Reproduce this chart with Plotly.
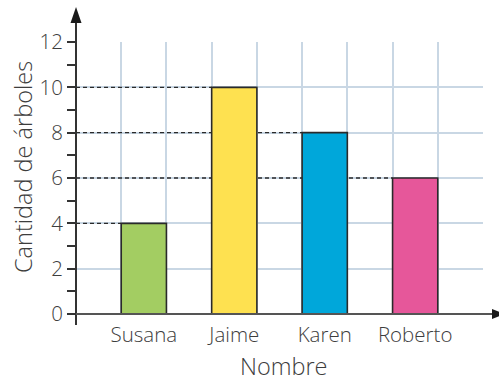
import plotly.graph_objects as go

# Trees counted per person
nombres = ["Susana", "Jaime", "Karen", "Roberto"]
arboles = [4, 10, 8, 6]
colores = ["#a3cd62", "#fee150", "#00a7da", "#e6579a"]
y_ticks = [0, 2, 4, 6, 8, 10, 12]

# Each bar sits in every other grid column (columns 1, 3, 5, 7 of 0..8)
posiciones = [2 * i + 1.5 for i in range(len(nombres))]

FONT = "Open Sans"
TXT = "#3d3d3d"
GRID = "#c9d7e4"
AXIS = "#333333"

fig = go.Figure()
fig.add_trace(go.Bar(
    x=posiciones, y=arboles, width=1,
    marker=dict(color=colores, line=dict(color="#2a2a2a", width=1.6)),
    hoverinfo="skip",
))

shapes = []
# dashed reference lines from the y axis to each bar's top-left corner
for xc, v in zip(posiciones, arboles):
    shapes.append(dict(type="line", xref="x", yref="y", x0=0, x1=xc - 0.5, y0=v, y1=v,
                       line=dict(color="#2a2a2a", width=1.3, dash="4px,3px"), layer="between"))

# axis lines with arrowheads (paper coords extend beyond the plot area)
W, H = 407.0, 272.0
shapes.append(dict(type="line", xref="paper", yref="paper", x0=0, x1=0,
                   y0=-11 / H, y1=1 + 22 / H, line=dict(color=AXIS, width=2), layer="above"))
shapes.append(dict(type="path", xref="paper", yref="paper",
                   path=f"M {-5.5 / W} {1 + 19 / H} L {5.5 / W} {1 + 19 / H} L 0 {1 + 35 / H} Z",
                   fillcolor="#1a1a1a", line=dict(width=0), layer="above"))
shapes.append(dict(type="line", xref="paper", yref="paper", x0=0, x1=1 + 12 / W,
                   y0=0, y1=0, line=dict(color="#555555", width=2), layer="above"))
shapes.append(dict(type="path", xref="paper", yref="paper",
                   path=f"M {1 + 9 / W} {5 / H} L {1 + 9 / W} {-5 / H} L {1 + 22 / W} 0 Z",
                   fillcolor="#1a1a1a", line=dict(width=0), layer="above"))

titulo_font = dict(size=23.5, color=TXT, family=FONT, weight=300)
annotations = [
    dict(text="Nombre", xref="paper", yref="paper", x=(283.5 - 76) / W, y=(314 - 383) / H,
         xanchor="center", yanchor="bottom", borderpad=0, showarrow=False, font=titulo_font),
    dict(text="Cantidad de árboles", xref="paper", yref="paper", x=(23 - 76) / W, y=(314 - 167) / H,
         xanchor="center", yanchor="middle", showarrow=False, textangle=-90, font=titulo_font),
]

fig.update_layout(
    width=499, height=381,
    margin=dict(l=76, r=16, t=42, b=67),
    paper_bgcolor="white", plot_bgcolor="white",
    showlegend=False,
    font=dict(family=FONT, color=TXT, size=20, weight=300),
    shapes=shapes,
    annotations=annotations,
    xaxis=dict(
        range=[0, 9], tickvals=posiciones, ticktext=nombres,
        showgrid=False, zeroline=False, showline=False, ticks="",
        ticklabelstandoff=6,
        tickfont=dict(size=20.5, color=TXT, family=FONT, weight=300),
        minor=dict(tick0=0, dtick=1, showgrid=True, gridcolor=GRID, gridwidth=1.6, ticks=""),
        fixedrange=True,
    ),
    yaxis=dict(
        range=[0, 12], tickvals=y_ticks,
        showgrid=True, gridcolor=GRID, gridwidth=1.6,
        zeroline=False, showline=False,
        ticks="outside", ticklen=8, tickwidth=1.6, tickcolor=AXIS,
        tickfont=dict(size=20.5, color=TXT, family=FONT, weight=300),
        minor=dict(dtick=1, tick0=0, ticks="outside", ticklen=8, tickwidth=1.6,
                   tickcolor=AXIS, showgrid=False),
        fixedrange=True,
    ),
)

fig.write_html("out.html")
